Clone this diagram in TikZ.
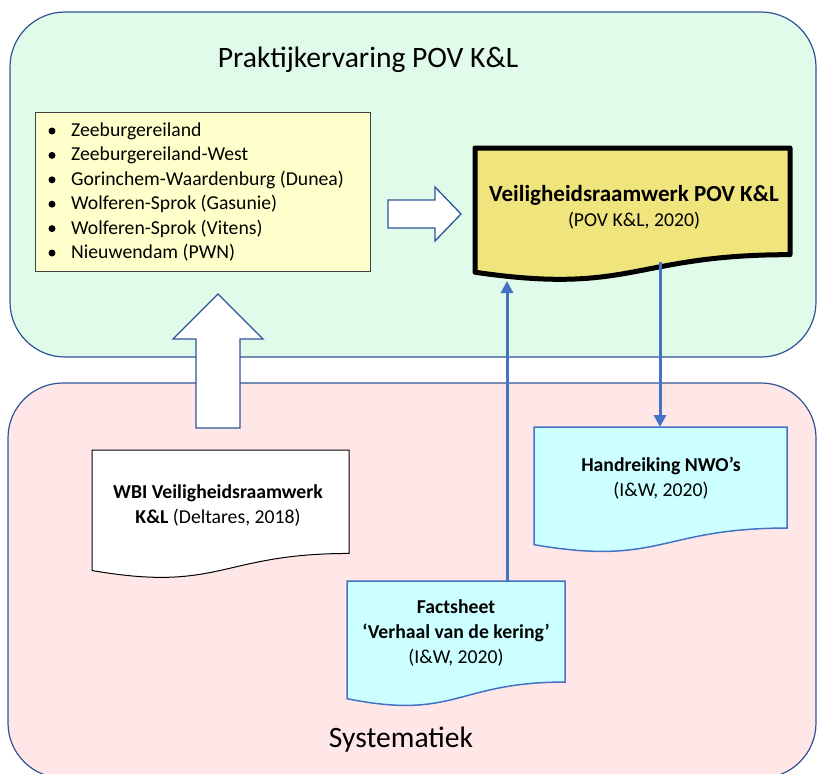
\documentclass[tikz,border=0pt]{standalone}
\usepackage{fontspec}
\setmainfont{Carlito}
\usepackage{tikz}
\usetikzlibrary{positioning,arrows.meta,calc}
\definecolor{mintbg}{HTML}{E0FBE9}
\definecolor{rosebg}{HTML}{FFE7E7}
\definecolor{frameblue}{HTML}{2F5496}
\definecolor{linkblue}{HTML}{4472C4}
\definecolor{notefill}{HTML}{FFFFCC}
\definecolor{khaki}{HTML}{F0E47C}
\definecolor{paleaqua}{HTML}{CCFFFF}
\newcommand{\basefont}{\fontsize{19.7}{25}\selectfont}
\newcommand{\bigfont}{\fontsize{29.6}{34}\selectfont}
% document shape: x, y (top left), width, height
\newcommand{\docpath}[4]{(#1,#2) -- (#1+#3,#2) -- (#1+#3,#2+0.802*#4)
  .. controls (#1+#3/2,#2+0.802*#4) and (#1+#3/2,#2+1.1075*#4) .. (#1,#2+0.934*#4) -- cycle}
\tikzset{
  zone/.style={draw=frameblue,line width=1.2pt,rounded corners=55pt},
  blockarr/.style={draw=frameblue,fill=white,line width=1.3pt,line join=miter},
  listbox/.style={draw=black!75,fill=notefill,line width=0.9pt,inner sep=0pt},
  mainDoc/.style={draw=black,fill=khaki,line width=5pt,line join=round},
  refDoc/.style={draw=black,fill=white,line width=1pt},
  aquaDoc/.style={draw=linkblue,fill=paleaqua,line width=1.5pt},
  link/.style={-{Triangle[length=12pt,width=12pt]},draw=linkblue,line width=3pt},
  txt/.style={font=\basefont,inner sep=0pt,align=center},
  bul/.style={circle,fill=black,inner sep=0pt,minimum size=7pt},
}
\begin{document}
\begin{tikzpicture}[x=1pt,y=-1pt]
  \useasboundingbox (0,0) rectangle (817,774);
  % zones
  \draw[zone,fill=mintbg] (10,12) rectangle (816,357);
  \draw[zone,fill=rosebg] (8,383) rectangle (816,778);
  \node[font=\bigfont,inner sep=0pt] (praktijk) at (368,60) {Praktijkervaring POV K\&L};
  \node[font=\bigfont,inner sep=0pt] (system) at (401,740) {Systematiek};

  % list of cases
  \node[listbox,minimum width=335pt,minimum height=159pt] (cases) at (202.5,191.5) {};
  \foreach \i/\t in {0/Zeeburgereiland,1/Zeeburgereiland-West,2/Gorinchem-Waardenburg (Dunea),
      3/Wolferen-Sprok (Gasunie),4/Wolferen-Sprok (Vitens),5/Nieuwendam (PWN)}{
    \node[bul] (b\i) at (52,131+24.4*\i) {};
    \node[txt,anchor=west] (c\i) at (71,131+24.4*\i) {\t};
  }

  % block arrows
  \draw[blockarr] (388,200) -- (435,200) -- (435,187) -- (461,214) -- (435,241)
    -- (435,228) -- (388,228) -- cycle;
  \draw[blockarr] (196,428) -- (196,339) -- (173,339) -- (218,294) -- (263,339)
    -- (240,339) -- (240,428) -- cycle;

  % documents
  \draw[mainDoc] \docpath{475}{148}{315}{133};
  \node[txt] (vrw) at (634,207) {{\bfseries\fontsize{23}{26}\selectfont Veiligheidsraamwerk POV K\&L}\\
    (POV K\&L, 2020)};
  \draw[refDoc] \docpath{92}{450}{257}{129};
  \node[txt] (wbi) at (218,505) {\bfseries WBI Veiligheidsraamwerk\\ \textbf{K\&L} (Deltares, 2018)};
  \draw[aquaDoc] \docpath{347}{581}{218}{126};
  \node[txt] (fact) at (456,633) {\bfseries Factsheet\\ \bfseries ‘Verhaal van de kering’\\ (I\&W, 2020)};
  \draw[aquaDoc] \docpath{534}{427}{253}{126};
  \node[txt] (nwo) at (661,478.5) {\bfseries Handreiking NWO’s\\ (I\&W, 2020)};

  % links
  \coordinate (factTop) at (507,581);
  \coordinate (vrwLow) at (507,281);
  \coordinate (vrwOut) at (660,262);
  \coordinate (nwoTop) at (660,427);
  \draw[link] (factTop) -- (vrwLow);
  \draw[link] (vrwOut) -- (nwoTop);
\end{tikzpicture}
\end{document}
